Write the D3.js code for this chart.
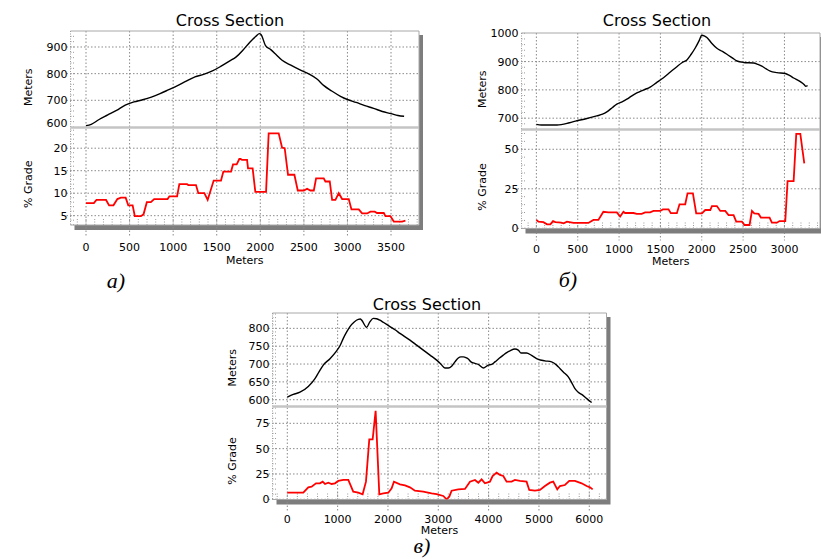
<!DOCTYPE html>
<html lang="en">
<head>
<meta charset="UTF-8">
<title>Cross Section</title>
<script src="https://cdn.jsdelivr.net/npm/d3@7"></script>
<style>
    body { margin: 0; background: #fff; }
    svg { display: block; font-family: "DejaVu Sans", Verdana, sans-serif; }
    .grid { stroke: #8a8a8a; stroke-width: 1; stroke-dasharray: 1.5, 2; }
    .minor { stroke: #9a9a9a; stroke-width: 1; stroke-dasharray: 1, 1.5; }
    .frame { stroke: #a8a8a8; stroke-width: 1; fill: none; }
    .tick-label { font-size: 11px; fill: #000; }
    .axis-title { font-size: 11px; fill: #000; }
    .title { font-size: 16px; fill: #000; }
    .tag { font-family: "Liberation Serif", "Times New Roman", serif; font-style: italic; font-size: 22px; fill: #000; }
    .elev { fill: none; stroke: #000; stroke-width: 1.4; }
    .grade { fill: none; stroke: #ff0000; stroke-width: 1.8; }
</style>
</head>
<body>
<svg id="chart" width="821" height="559"></svg>
<script>
// profile a): distance (m), elevation (m)
const elevationA = [[0,605],[60,610],[150,628],[250,645],[350,662],[450,682],[550,694],[650,702],[750,712],[850,725],[950,740],[1050,755],[1150,772],[1250,788],[1350,797],[1450,810],[1550,828],[1650,848],[1720,862],[1800,888],[1880,918],[1950,940],[1990,950],[2010,946],[2060,905],[2120,890],[2180,872],[2250,850],[2350,832],[2450,815],[2550,800],[2650,780],[2730,755],[2820,735],[2920,715],[3000,703],[3100,692],[3200,680],[3300,670],[3400,658],[3500,650],[3580,643],[3650,640]];
// profile a): distance (m), % grade
const gradeA = [[0,7.8],[90,7.8],[120,8.5],[230,8.5],[265,7.3],[315,7.3],[360,8.7],[400,9],[455,9],[485,7.3],[535,7.3],[560,4.9],[630,4.9],[660,5.3],[698,8],[744,8],[782,8.7],[936,8.7],[957,9.3],[1045,9.3],[1071,12],[1159,12],[1174,11.8],[1262,11.8],[1289,10],[1358,10],[1396,8.5],[1465,12.8],[1549,12.8],[1576,14.8],[1664,14.8],[1687,16.4],[1729,16.4],[1759,17.6],[1775,17.6],[1790,17.4],[1848,17.4],[1859,15.5],[1912,15.5],[1943,10.3],[2066,10.3],[2096,23.3],[2211,23.3],[2250,20.1],[2280,20],[2318,14.1],[2391,14.1],[2430,10.6],[2500,10.6],[2537,11],[2575,10.6],[2614,10.6],[2640,13.3],[2728,13.3],[2747,12.6],[2797,12.6],[2824,8.5],[2862,8.5],[2900,10],[2939,8.7],[3015,8.7],[3046,6.4],[3130,6.4],[3168,5.5],[3226,5.5],[3264,5.9],[3313,5.9],[3340,5.6],[3417,5.6],[3436,4.9],[3493,4.9],[3532,3.7],[3627,3.7],[3665,3.9]];

// profile б)
const elevationB = [[0,678],[60,676],[250,676],[400,684],[490,691],[600,698],[730,708],[800,714],[852,722],[920,738],[973,750],[1030,757],[1094,767],[1150,778],[1215,789],[1300,800],[1376,810],[1450,825],[1537,843],[1620,863],[1699,882],[1760,896],[1820,906],[1870,925],[1921,948],[1970,975],[2000,993],[2030,991],[2062,985],[2120,965],[2183,947],[2250,936],[2304,926],[2370,913],[2425,902],[2506,897],[2627,895],[2680,890],[2727,884],[2780,874],[2828,866],[2909,861],[3010,858],[3060,851],[3111,842],[3192,829],[3240,818],[3255,813],[3280,815]];
const gradeB = [[0,5.3],[25,4.2],[85,3.9],[129,2.5],[169,2.5],[201,4.6],[230,3.9],[300,3.6],[330,3.2],[370,4.2],[400,4],[450,3.5],[520,3.4],[629,3.4],[690,5.3],[750,5.3],[810,10.5],[871,10.1],[973,10.1],[1013,7.5],[1053,10.5],[1073,9.7],[1174,9.7],[1214,9.2],[1274,9.2],[1315,10.1],[1376,10.1],[1416,11],[1497,11],[1530,12],[1598,12],[1626,9.6],[1699,9.6],[1731,15.2],[1800,15.2],[1828,22.1],[1893,22.1],[1933,9.5],[2002,9.5],[2042,11.6],[2103,11.6],[2123,14.1],[2183,14.1],[2224,11],[2284,11],[2324,8.4],[2385,8.4],[2417,4.2],[2486,4.2],[2518,2.1],[2578,2.1],[2607,11],[2635,9.5],[2687,9.1],[2715,6.8],[2820,6.8],[2848,3.6],[2909,3.6],[2941,4.6],[3010,4.6],[3038,29.9],[3111,29.9],[3143,59.7],[3192,59.7],[3240,41.1]];

// profile в)
const elevationC = [[0,607],[119,615],[252,621],[417,637],[550,659],[630,678],[715,697],[848,715],[980,737],[1050,752],[1113,772],[1180,790],[1245,805],[1330,818],[1411,825],[1450,826],[1477,823],[1576,803],[1640,818],[1709,828],[1775,827],[1840,823],[1907,817],[2040,805],[2140,796],[2238,786],[2437,767],[2570,753],[2702,739],[2835,725],[2967,711],[3050,700],[3132,689],[3200,689],[3265,694],[3330,706],[3397,717],[3450,720],[3496,720],[3560,717],[3596,714],[3650,706],[3695,703],[3795,699],[3894,689],[3993,697],[4060,699],[4126,706],[4210,716],[4291,725],[4360,732],[4424,737],[4523,742],[4589,739],[4640,731],[4700,731],[4754,731],[4854,724],[4986,713],[5119,709],[5251,706],[5351,697],[5420,687],[5483,678],[5583,664],[5650,648],[5715,631],[5780,621],[5848,615],[5950,603],[6047,592]];
const gradeC = [[0,6.5],[318,6.5],[417,11.8],[483,12.5],[570,15.8],[649,15.8],[702,17.4],[749,15.1],[815,16.4],[881,15.1],[947,15.8],[1013,18.1],[1113,19.1],[1212,19.1],[1311,7.5],[1411,6.5],[1497,4.9],[1563,17.4],[1629,59.2],[1696,59.2],[1755,87.4],[1828,4.9],[1907,5.9],[2007,6.5],[2073,10.8],[2119,17.4],[2238,14.8],[2338,13.8],[2437,11.8],[2536,8.5],[2702,7.5],[2867,5.9],[2967,5.2],[3099,3.3],[3165,0],[3218,2.6],[3265,8.5],[3397,9.8],[3530,10.2],[3629,17.4],[3729,19.1],[3795,16.4],[3861,19.7],[3927,15.8],[4026,17.4],[4079,23],[4159,26.3],[4225,24],[4291,23],[4357,17.4],[4457,17.4],[4523,19.1],[4622,18.1],[4754,17.4],[4807,9.2],[4920,8.5],[5020,9.2],[5119,13.1],[5218,16.4],[5284,17.4],[5364,9.8],[5417,13.1],[5516,14.1],[5602,18.1],[5715,18.1],[5848,15.8],[5947,13.1],[6014,11.8],[6067,9.8]];

// tick labels
const xTicksA = d3.range(0, 3501, 500);
const xTicksB = d3.range(0, 3001, 500);
const xTicksC = d3.range(0, 6001, 1000);
const elevTicksA = [600, 700, 800, 900];
const elevTicksB = [700, 800, 900, 1000];
const elevTicksC = [600, 650, 700, 750, 800];
const gradeTicksA = [5, 10, 15, 20];
const gradeTicksB = [0, 25, 50];
const gradeTicksC = [0, 25, 50, 75];

const svg = d3.select("#chart");

const panels = [
    { id: "a", tag: "a)", tagX: 116, tagY: 288, titleX: 230, titleY: 26,
      left: 70.5, right: 419, top: 31, sep: 127.5, bottom: 225,
      xDomain: [-178, 3821], elevDomain: [598, 960], gradeDomain: [2.93, 24.6],
      xTicks: xTicksA, elevTicks: elevTicksA, gradeTicks: gradeTicksA,
      xMinor: 100, elevMinor: 20, gradeMinor: 1,
      xLabelY: 251, xTitleY: 263.5, yTitleX: 32,
      elevation: elevationA, grade: gradeA },
    { id: "b", tag: "б)", tagX: 568, tagY: 287, titleX: 657, titleY: 26,
      left: 521.5, right: 820, top: 33, sep: 129.5, bottom: 228.5,
      xDomain: [-180, 3430], elevDomain: [660, 1001], gradeDomain: [-0.1, 62.5],
      xTicks: xTicksB, elevTicks: elevTicksB, gradeTicks: gradeTicksB,
      xMinor: 100, elevMinor: 20, gradeMinor: 5,
      xLabelY: 253, xTitleY: 265, yTitleX: 485.7,
      elevation: elevationB, grade: gradeB },
    { id: "c", tag: "в)", tagX: 422, tagY: 553, titleX: 427, titleY: 310,
      left: 272.5, right: 606.5, top: 313, sep: 406.5, bottom: 499.5,
      xDomain: [-294, 6342], elevDomain: [581, 843], gradeDomain: [-0.2, 91.6],
      xTicks: xTicksC, elevTicks: elevTicksC, gradeTicks: gradeTicksC,
      xMinor: 200, elevMinor: 10, gradeMinor: 5,
      xLabelY: 522.5, xTitleY: 534, yTitleX: 235.7,
      elevation: elevationC, grade: gradeC }
];

panels.forEach(drawPanel);

function drawPanel(p) {
    const g = svg.append("g");
    const x = d3.scaleLinear().domain(p.xDomain).range([p.left, p.right]);
    const yTop = d3.scaleLinear().domain(p.elevDomain).range([p.sep, p.top]);
    const yBot = d3.scaleLinear().domain(p.gradeDomain).range([p.bottom, p.sep]);

    // drop shadow + white plot area
    g.append("rect")
        .attr("x", p.left + 4).attr("y", p.top + 4)
        .attr("width", p.right - p.left).attr("height", p.bottom - p.top + 1)
        .attr("fill", "#7d7d7d");
    g.append("rect")
        .attr("x", p.left).attr("y", p.top)
        .attr("width", p.right - p.left).attr("height", p.bottom - p.top)
        .attr("fill", "#fff");

    // minor ticks along the bottom and left edges
    const x0 = Math.ceil(x.invert(p.left) / p.xMinor) * p.xMinor;
    d3.range(x0, x.invert(p.right), p.xMinor).forEach(v => {
        g.append("line").attr("class", "minor")
            .attr("x1", x(v)).attr("x2", x(v))
            .attr("y1", p.bottom - 6).attr("y2", p.bottom);
    });
    const minorLeft = (scale, step, y1, y2) => {
        const lo = Math.ceil(scale.invert(y1) / step) * step;
        d3.range(lo, scale.invert(y2), step).forEach(v => {
            g.append("line").attr("class", "minor")
                .attr("x1", p.left).attr("x2", p.left + 5)
                .attr("y1", scale(v)).attr("y2", scale(v));
        });
    };
    minorLeft(yTop, p.elevMinor, p.sep, p.top);
    minorLeft(yBot, p.gradeMinor, p.bottom, p.sep);

    // grid lines
    p.xTicks.forEach(v => {
        g.append("line").attr("class", "grid")
            .attr("x1", x(v)).attr("x2", x(v))
            .attr("y1", p.top).attr("y2", p.bottom + 12);
    });
    const hGrid = (scale, ticks, y1, y2) => {
        ticks.forEach(v => {
            const y = scale(v);
            if (y > y2 + 1.5 && y < y1 - 1.5) {
                g.append("line").attr("class", "grid")
                    .attr("x1", p.left - 4).attr("x2", p.right)
                    .attr("y1", y).attr("y2", y);
            }
        });
    };
    hGrid(yTop, p.elevTicks, p.sep, p.top);
    hGrid(yBot, p.gradeTicks, p.bottom + 3, p.sep);

    // frame
    g.append("line").attr("class", "frame")
        .attr("x1", p.left).attr("x2", p.right).attr("y1", p.top).attr("y2", p.top);
    g.append("line").attr("class", "frame")
        .attr("x1", p.right).attr("x2", p.right).attr("y1", p.top).attr("y2", p.bottom);
    g.append("line").attr("class", "frame")
        .attr("x1", p.left).attr("x2", p.right).attr("y1", p.bottom).attr("y2", p.bottom);
    g.append("line").attr("class", "minor")
        .attr("x1", p.left).attr("x2", p.left).attr("y1", p.top).attr("y2", p.bottom);
    g.append("line")
        .attr("x1", p.left).attr("x2", p.right).attr("y1", p.sep).attr("y2", p.sep)
        .attr("stroke", "#c4c4c4").attr("stroke-width", 2.5);

    // clipped data lines
    const clipTop = "clip-top-" + p.id, clipBot = "clip-bot-" + p.id;
    const defs = g.append("defs");
    defs.append("clipPath").attr("id", clipTop).append("rect")
        .attr("x", p.left).attr("y", p.top).attr("width", p.right - p.left).attr("height", p.sep - p.top - 1);
    defs.append("clipPath").attr("id", clipBot).append("rect")
        .attr("x", p.left).attr("y", p.sep + 1).attr("width", p.right - p.left).attr("height", p.bottom - p.sep - 1);

    g.append("path").attr("class", "elev")
        .attr("clip-path", `url(#${clipTop})`)
        .attr("d", d3.line().x(d => x(d[0])).y(d => yTop(d[1])).curve(d3.curveMonotoneX)(p.elevation));
    g.append("path").attr("class", "grade")
        .attr("clip-path", `url(#${clipBot})`)
        .attr("d", d3.line().x(d => x(d[0])).y(d => yBot(d[1]))(p.grade));

    // tick labels
    p.xTicks.forEach(v => {
        g.append("text").attr("class", "tick-label")
            .attr("x", x(v)).attr("y", p.xLabelY)
            .attr("text-anchor", "middle").text(v);
    });
    p.elevTicks.forEach(v => {
        g.append("text").attr("class", "tick-label")
            .attr("x", p.left - 3).attr("y", Math.min(yTop(v), p.sep - 4))
            .attr("dy", "0.36em").attr("text-anchor", "end").text(v);
    });
    p.gradeTicks.forEach(v => {
        g.append("text").attr("class", "tick-label")
            .attr("x", p.left - 3).attr("y", yBot(v))
            .attr("dy", "0.36em").attr("text-anchor", "end").text(v);
    });

    // axis titles
    g.append("text").attr("class", "axis-title")
        .attr("x", (p.left + p.right) / 2).attr("y", p.xTitleY)
        .attr("text-anchor", "middle").text("Meters");
    g.append("text").attr("class", "axis-title")
        .attr("transform", `translate(${p.yTitleX},${(p.top + p.sep) / 2 + 8}) rotate(-90)`)
        .attr("text-anchor", "middle").text("Meters");
    g.append("text").attr("class", "axis-title")
        .attr("transform", `translate(${p.yTitleX},${(p.sep + p.bottom) / 2 + 8}) rotate(-90)`)
        .attr("text-anchor", "middle").text("% Grade");

    g.append("text").attr("class", "title")
        .attr("x", p.titleX).attr("y", p.titleY)
        .attr("text-anchor", "middle").text("Cross Section");
    g.append("text").attr("class", "tag")
        .attr("x", p.tagX).attr("y", p.tagY)
        .attr("text-anchor", "middle").text(p.tag);
}
</script>
</body>
</html>
